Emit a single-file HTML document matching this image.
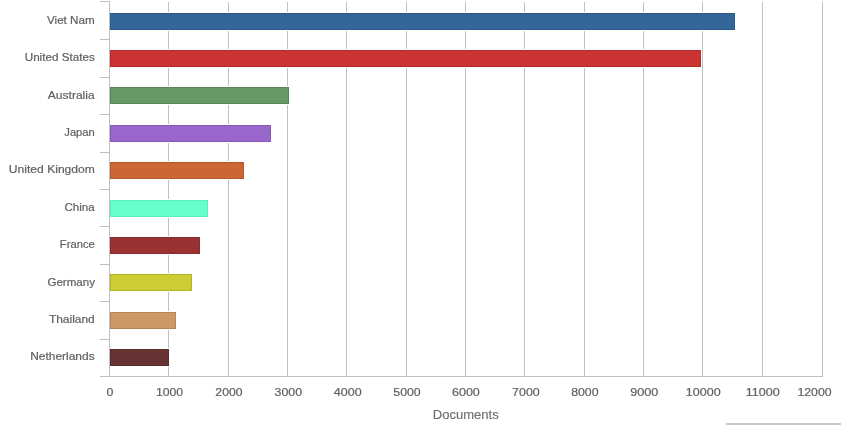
<!DOCTYPE html>
<html><head><meta charset="utf-8"><style>
html,body{margin:0;padding:0;background:#fff;width:841px;height:425px;overflow:hidden;position:relative}
text{font-family:"Liberation Sans",sans-serif}
.lb{font-size:11px;fill:#606060;stroke:#606060;stroke-width:0.2px}
.lv{font-size:11px;fill:#606060;stroke:#606060;stroke-width:0.2px}
.ttl{font-size:12px;fill:#707070;stroke:#707070;stroke-width:0.15px}
</style></head><body>
<svg width="841" height="425" viewBox="0 0 841 425" style="position:absolute;left:0;top:0;will-change:transform">
<line x1="168.5" y1="2" x2="168.5" y2="376" stroke="#c0c0c0" stroke-width="1"/>
<line x1="228.5" y1="2" x2="228.5" y2="376" stroke="#c0c0c0" stroke-width="1"/>
<line x1="287.5" y1="2" x2="287.5" y2="376" stroke="#c0c0c0" stroke-width="1"/>
<line x1="346.5" y1="2" x2="346.5" y2="376" stroke="#c0c0c0" stroke-width="1"/>
<line x1="406.5" y1="2" x2="406.5" y2="376" stroke="#c0c0c0" stroke-width="1"/>
<line x1="465.5" y1="2" x2="465.5" y2="376" stroke="#c0c0c0" stroke-width="1"/>
<line x1="524.5" y1="2" x2="524.5" y2="376" stroke="#c0c0c0" stroke-width="1"/>
<line x1="584.5" y1="2" x2="584.5" y2="376" stroke="#c0c0c0" stroke-width="1"/>
<line x1="643.5" y1="2" x2="643.5" y2="376" stroke="#c0c0c0" stroke-width="1"/>
<line x1="702.5" y1="2" x2="702.5" y2="376" stroke="#c0c0c0" stroke-width="1"/>
<line x1="762.5" y1="2" x2="762.5" y2="376" stroke="#c0c0c0" stroke-width="1"/>
<line x1="822.5" y1="2" x2="822.5" y2="376" stroke="#c0c0c0" stroke-width="1"/>
<line x1="100" y1="376.5" x2="823" y2="376.5" stroke="#c0c0c0" stroke-width="1"/>
<line x1="109.5" y1="1" x2="109.5" y2="377" stroke="#c0c0c0" stroke-width="1"/>
<line x1="100" y1="1.5" x2="110" y2="1.5" stroke="#c0c0c0" stroke-width="1"/>
<line x1="100" y1="39.5" x2="110" y2="39.5" stroke="#c0c0c0" stroke-width="1"/>
<line x1="100" y1="77.5" x2="110" y2="77.5" stroke="#c0c0c0" stroke-width="1"/>
<line x1="100" y1="114.5" x2="110" y2="114.5" stroke="#c0c0c0" stroke-width="1"/>
<line x1="100" y1="152.5" x2="110" y2="152.5" stroke="#c0c0c0" stroke-width="1"/>
<line x1="100" y1="189.5" x2="110" y2="189.5" stroke="#c0c0c0" stroke-width="1"/>
<line x1="100" y1="226.5" x2="110" y2="226.5" stroke="#c0c0c0" stroke-width="1"/>
<line x1="100" y1="264.5" x2="110" y2="264.5" stroke="#c0c0c0" stroke-width="1"/>
<line x1="100" y1="301.5" x2="110" y2="301.5" stroke="#c0c0c0" stroke-width="1"/>
<line x1="100" y1="339.5" x2="110" y2="339.5" stroke="#c0c0c0" stroke-width="1"/>
<line x1="100" y1="376.5" x2="110" y2="376.5" stroke="#c0c0c0" stroke-width="1"/>
<rect x="110" y="12" width="626" height="19" fill="#ffffff"/>
<rect x="110.5" y="13.5" width="624" height="16" fill="#336699" stroke="#2c5986" stroke-width="1"/>
<rect x="110" y="49" width="592" height="19" fill="#ffffff"/>
<rect x="110.5" y="50.5" width="590" height="16" fill="#cc3333" stroke="#b32c2c" stroke-width="1"/>
<rect x="110" y="86" width="180" height="19" fill="#ffffff"/>
<rect x="110.5" y="87.5" width="178" height="16" fill="#669966" stroke="#598659" stroke-width="1"/>
<rect x="110" y="124" width="162" height="19" fill="#ffffff"/>
<rect x="110.5" y="125.5" width="160" height="16" fill="#9966cc" stroke="#8659b3" stroke-width="1"/>
<rect x="110" y="161" width="135" height="19" fill="#ffffff"/>
<rect x="110.5" y="162.5" width="133" height="16" fill="#cc6633" stroke="#b3592c" stroke-width="1"/>
<rect x="110" y="199" width="99" height="19" fill="#ffffff"/>
<rect x="110.5" y="200.5" width="97" height="16" fill="#66ffcc" stroke="#5decbb" stroke-width="1"/>
<rect x="110" y="236" width="91" height="19" fill="#ffffff"/>
<rect x="110.5" y="237.5" width="89" height="16" fill="#993333" stroke="#862c2c" stroke-width="1"/>
<rect x="110" y="273" width="83" height="19" fill="#ffffff"/>
<rect x="110.5" y="274.5" width="81" height="16" fill="#cccc33" stroke="#b3b32c" stroke-width="1"/>
<rect x="110" y="311" width="67" height="19" fill="#ffffff"/>
<rect x="110.5" y="312.5" width="65" height="16" fill="#cc9966" stroke="#b38659" stroke-width="1"/>
<rect x="110" y="348" width="60" height="19" fill="#ffffff"/>
<rect x="110.5" y="349.5" width="58" height="16" fill="#663333" stroke="#592c2c" stroke-width="1"/>
<text x="94.719" y="24" text-anchor="end" class="lb" textLength="47.726" lengthAdjust="spacingAndGlyphs">Viet Nam</text>
<text x="94.733" y="61" text-anchor="end" class="lb" textLength="70.025" lengthAdjust="spacingAndGlyphs">United States</text>
<text x="94.641" y="99" text-anchor="end" class="lb" textLength="46.809" lengthAdjust="spacingAndGlyphs">Australia</text>
<text x="94.808" y="136" text-anchor="end" class="lb" textLength="30.523" lengthAdjust="spacingAndGlyphs">Japan</text>
<text x="94.892" y="173" text-anchor="end" class="lb" textLength="86.040" lengthAdjust="spacingAndGlyphs">United Kingdom</text>
<text x="94.600" y="211" text-anchor="end" class="lb" textLength="30.130" lengthAdjust="spacingAndGlyphs">China</text>
<text x="94.758" y="248" text-anchor="end" class="lb" textLength="34.885" lengthAdjust="spacingAndGlyphs">France</text>
<text x="95.054" y="286" text-anchor="end" class="lb" textLength="47.629" lengthAdjust="spacingAndGlyphs">Germany</text>
<text x="94.774" y="323" text-anchor="end" class="lb" textLength="45.842" lengthAdjust="spacingAndGlyphs">Thailand</text>
<text x="94.627" y="360" text-anchor="end" class="lb" textLength="64.391" lengthAdjust="spacingAndGlyphs">Netherlands</text>
<text x="109.896" y="396" text-anchor="middle" class="lv" textLength="6.879" lengthAdjust="spacingAndGlyphs">0</text>
<text x="169.566" y="396" text-anchor="middle" class="lv" textLength="27.279" lengthAdjust="spacingAndGlyphs">1000</text>
<text x="228.979" y="396" text-anchor="middle" class="lv" textLength="27.224" lengthAdjust="spacingAndGlyphs">2000</text>
<text x="288.291" y="396" text-anchor="middle" class="lv" textLength="27.420" lengthAdjust="spacingAndGlyphs">3000</text>
<text x="347.765" y="396" text-anchor="middle" class="lv" textLength="27.804" lengthAdjust="spacingAndGlyphs">4000</text>
<text x="407.044" y="396" text-anchor="middle" class="lv" textLength="27.356" lengthAdjust="spacingAndGlyphs">5000</text>
<text x="465.893" y="396" text-anchor="middle" class="lv" textLength="27.931" lengthAdjust="spacingAndGlyphs">6000</text>
<text x="525.914" y="396" text-anchor="middle" class="lv" textLength="27.629" lengthAdjust="spacingAndGlyphs">7000</text>
<text x="584.827" y="396" text-anchor="middle" class="lv" textLength="27.372" lengthAdjust="spacingAndGlyphs">8000</text>
<text x="644.226" y="396" text-anchor="middle" class="lv" textLength="28.109" lengthAdjust="spacingAndGlyphs">9000</text>
<text x="703.197" y="396" text-anchor="middle" class="lv" textLength="34.879" lengthAdjust="spacingAndGlyphs">10000</text>
<text x="762.792" y="396" text-anchor="middle" class="lv" textLength="33.993" lengthAdjust="spacingAndGlyphs">11000</text>
<text x="814.514" y="396" text-anchor="middle" class="lv" textLength="34.199" lengthAdjust="spacingAndGlyphs">12000</text>
<text x="465.750" y="419" text-anchor="middle" class="ttl" textLength="66.083" lengthAdjust="spacingAndGlyphs">Documents</text>
<rect x="726" y="423" width="115" height="2" fill="#c8c8c8"/>
</svg>
</body></html>
